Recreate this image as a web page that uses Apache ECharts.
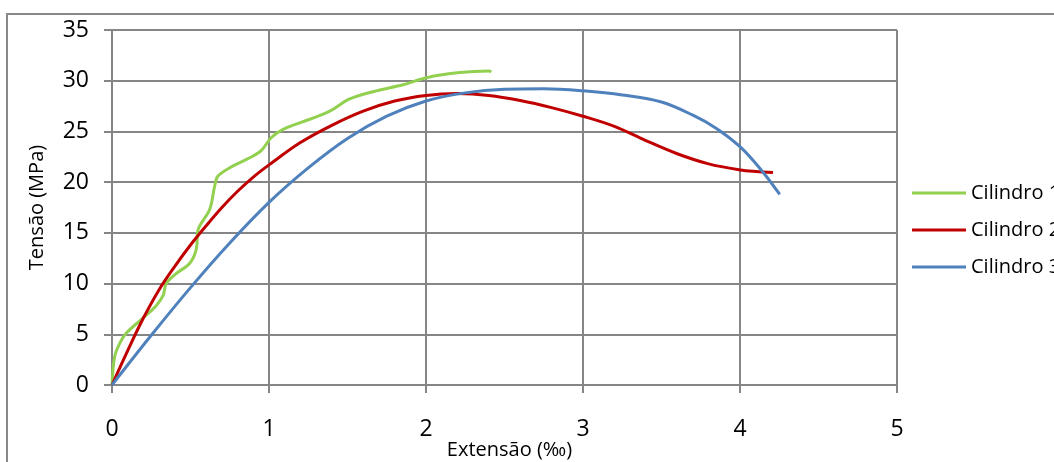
<!DOCTYPE html>
<html>
<head>
<meta charset="utf-8">
<script src="https://cdn.jsdelivr.net/npm/echarts@6/dist/echarts.min.js"></script>
<style>
html,body{margin:0;padding:0;background:#fff;}
#c{width:1054px;height:462px;}
</style>
</head>
<body>
<div id="c"></div>
<script>
const seriesNames = ['Cilindro 1', 'Cilindro 2', 'Cilindro 3'];
const xTicks = [0, 1, 2, 3, 4, 5];
const yTicks = [0, 5, 10, 15, 20, 25, 30, 35];

const cil1 = [
  [0, 0], [0.017, 2.8], [0.049, 4.1], [0.09, 5.1], [0.197, 6.6], [0.28, 7.8],
  [0.325, 8.8], [0.346, 10.0], [0.41, 11.0], [0.495, 12.0], [0.537, 13.4],
  [0.548, 15.3], [0.622, 17.3], [0.654, 19.6], [0.675, 20.6], [0.771, 21.6],
  [0.877, 22.4], [0.95, 23.1], [1.015, 24.4], [1.09, 25.2], [1.26, 26.2],
  [1.387, 27.0], [1.514, 28.2], [1.684, 29.0], [1.853, 29.6], [2.003, 30.3],
  [2.215, 30.8], [2.4, 30.95], [2.416, 30.85]
];
const cil2 = [
  [0, 0], [0.1, 3.4], [0.2, 6.6], [0.3, 9.4], [0.4, 11.7], [0.5, 13.8],
  [0.6, 15.7], [0.7, 17.5], [0.8, 19.1], [0.9, 20.5], [1.0, 21.7], [1.2, 23.9],
  [1.4, 25.6], [1.6, 27.0], [1.8, 28.0], [2.0, 28.55], [2.2, 28.73], [2.4, 28.55],
  [2.6, 28.05], [2.8, 27.35], [3.0, 26.5], [3.2, 25.5], [3.4, 24.1], [3.6, 22.8],
  [3.8, 21.8], [4.0, 21.2], [4.1, 21.05], [4.21, 20.96]
];
const cil3 = [
  [0, 0], [0.25, 4.9], [0.5, 9.6], [0.75, 14.0], [1.0, 18.0], [1.25, 21.4],
  [1.5, 24.3], [1.75, 26.5], [2.0, 28.0], [2.25, 28.8], [2.5, 29.15], [2.75, 29.2],
  [3.0, 29.0], [3.25, 28.6], [3.5, 27.9], [3.7, 26.6], [3.85, 25.3], [4.0, 23.5],
  [4.13, 21.3], [4.253, 18.8]
];
const colors = ['#92D050', '#C00000', '#4F81BD'];
const font = 'Open Sans';

const chart = echarts.init(document.getElementById('c'), null, {renderer: 'canvas'});
const axisGray = '#868686';
chart.setOption({
  animation: false,
  backgroundColor: '#ffffff',
  color: colors,
  textStyle: {fontFamily: font, color: '#000'},
  graphic: [{
    type: 'rect', shape: {x: 7, y: 14, width: 1200, height: 600},
    style: {fill: 'none', stroke: '#888888', lineWidth: 2}, silent: true, z: -1
  }],
  grid: {left: 112, top: 30, width: 785, height: 355, containLabel: false, outerBoundsMode: 'none'},
  legend: {
    orient: 'vertical', left: 912, top: 182, padding: 0,
    icon: 'rect', itemWidth: 54, itemHeight: 3, itemGap: 15,
    data: seriesNames,
    textStyle: {fontFamily: font, fontSize: 20, color: '#000', lineHeight: 22}
  },
  xAxis: {
    type: 'value', min: xTicks[0], max: xTicks[xTicks.length - 1], interval: 1,
    name: 'Extensão (‰)', nameLocation: 'middle', nameGap: 55, nameMoveOverlap: false,
    nameTextStyle: {fontFamily: font, fontSize: 20, color: '#000', padding: [0, 0, 0, 10]},
    axisLine: {show: true, lineStyle: {color: axisGray, width: 2}},
    axisTick: {show: true, inside: false, length: 8, lineStyle: {color: axisGray, width: 2}},
    axisLabel: {margin: 33, fontFamily: font, fontSize: 23, color: '#000'},
    splitLine: {show: true, lineStyle: {color: axisGray, width: 2}}
  },
  yAxis: {
    type: 'value', min: yTicks[0], max: yTicks[yTicks.length - 1], interval: 5,
    name: 'Tensão (MPa)', nameLocation: 'middle', nameGap: 65, nameMoveOverlap: false,
    nameTextStyle: {fontFamily: font, fontSize: 20, color: '#000'},
    axisLine: {show: true, lineStyle: {color: axisGray, width: 2}},
    axisTick: {show: true, inside: false, length: 8, lineStyle: {color: axisGray, width: 2}},
    axisLabel: {margin: 23, fontFamily: font, fontSize: 23, color: '#000'},
    splitLine: {show: true, lineStyle: {color: axisGray, width: 2}}
  },
  series: [cil1, cil2, cil3].map((d, i) => ({
    name: seriesNames[i], type: 'line', data: d, showSymbol: false,
    smooth: 0.35,
    lineStyle: {width: 3, color: colors[i]}, itemStyle: {color: colors[i]}
  }))
});
</script>
</body>
</html>
